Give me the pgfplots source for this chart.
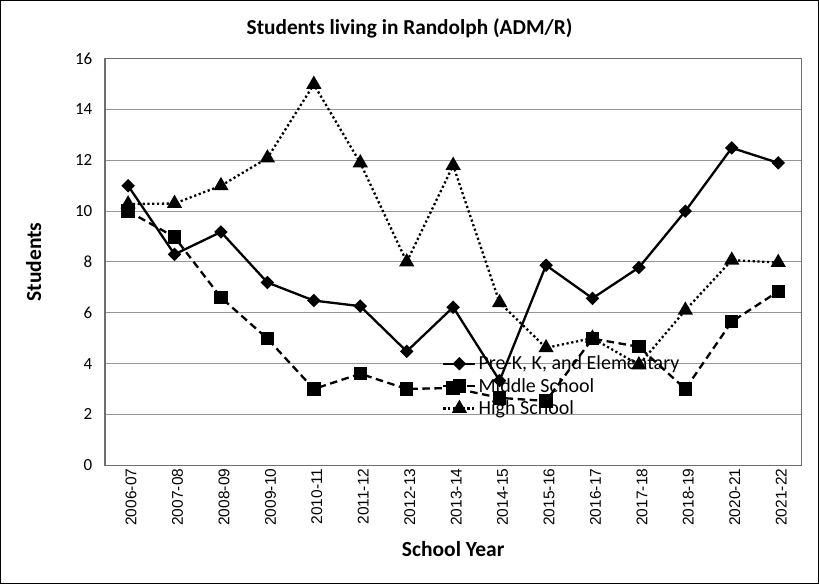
\documentclass[border=0pt]{standalone}
\usepackage{pgfplots}
\pgfplotsset{compat=1.18}
\usepackage{fontspec}
\setmainfont{Carlito}
\newfontfamily\arial{Liberation Sans}
\definecolor{gridc}{RGB}{150,150,150}
\definecolor{framec}{RGB}{110,110,110}
\begin{document}
\begin{tikzpicture}
\begin{axis}[
  at={(0,0)}, anchor=south west,
  scale only axis, width=694bp, height=405bp,
  xmin=-0.5, xmax=14.5, ymin=0, ymax=16,
  xtick={0,...,14},
  xticklabels={2006-07,2007-08,2008-09,2009-10,2010-11,2011-12,2012-13,2013-14,2014-15,2015-16,2016-17,2017-18,2018-19,2020-21,2021-22},
  ytick={0,2,...,16},
  /pgf/number format/assume math mode=true,
  x tick label style={rotate=90, anchor=east, font=\arial\fontsize{15.5}{17}\selectfont, yshift=-3bp},
  y tick label style={font=\fontsize{17}{19}\selectfont, xshift=-9bp},
  major tick length=0pt,
  ymajorgrids, grid style={gridc, line width=1bp},
  axis line style={framec, line width=1.3bp},
  xlabel={School Year}, ylabel={Students},
  every axis x label/.style={at={(axis description cs:0.5,-0.2074)}, anchor=center, font=\bfseries\fontsize{21.5}{24}\selectfont},
  every axis y label/.style={at={(axis description cs:-0.1023,0.5)}, rotate=90, anchor=center, font=\bfseries\fontsize{21.5}{24}\selectfont},
  title={Students living in Randolph (ADM/R)},
  every axis title/.style={at={(axis description cs:0.4373,1.074)}, anchor=center, font=\bfseries\fontsize{21.3}{24}\selectfont},
  legend style={at={(axis description cs:0.484,0.274)}, anchor=north west, draw=none, fill=none, font=\fontsize{20}{22}\selectfont, row sep=3bp, inner sep=0pt},
  legend cell align=left,
  legend image code/.code={\draw[mark repeat=2,mark phase=2,#1] plot coordinates {(0bp,0bp) (16bp,0bp) (32bp,0bp)};},
  every axis plot/.append style={line width=2.3bp, black},
]
\addplot[solid, mark=square*, mark size=3.6bp, mark options={rotate=45, solid}] coordinates {
(0,11.0) (1,8.3) (2,9.18) (3,7.19) (4,6.48) (5,6.26) (6,4.48) (7,6.22) (8,3.33) (9,7.87) (10,6.57) (11,7.78) (12,10.0) (13,12.49) (14,11.9)};
\addlegendentry{Pre-K, K, and Elementary}
\addplot[dash pattern=on 7.5bp off 4.5bp, mark=square*, mark size=5.5bp, mark options={solid}] coordinates {
(0,10.0) (1,8.98) (2,6.6) (3,4.98) (4,3.0) (5,3.6) (6,3.0) (7,3.04) (8,2.65) (9,2.53) (10,4.98) (11,4.66) (12,3.0) (13,5.65) (14,6.84)};
\addlegendentry{Middle School}
\addplot[dash pattern=on 2.2bp off 2.6bp, mark=triangle*, mark size=6.5bp, mark options={solid}] coordinates {
(0,10.28) (1,10.3) (2,11.0) (3,12.09) (4,14.99) (5,11.9) (6,8.0) (7,11.8) (8,6.4) (9,4.62) (10,5.0) (11,3.95) (12,6.1) (13,8.07) (14,7.98)};
\addlegendentry{High School}
\end{axis}
\draw[black, line width=1bp] (-104bp,-118bp) rectangle (711bp,463bp);
\end{tikzpicture}
\end{document}
